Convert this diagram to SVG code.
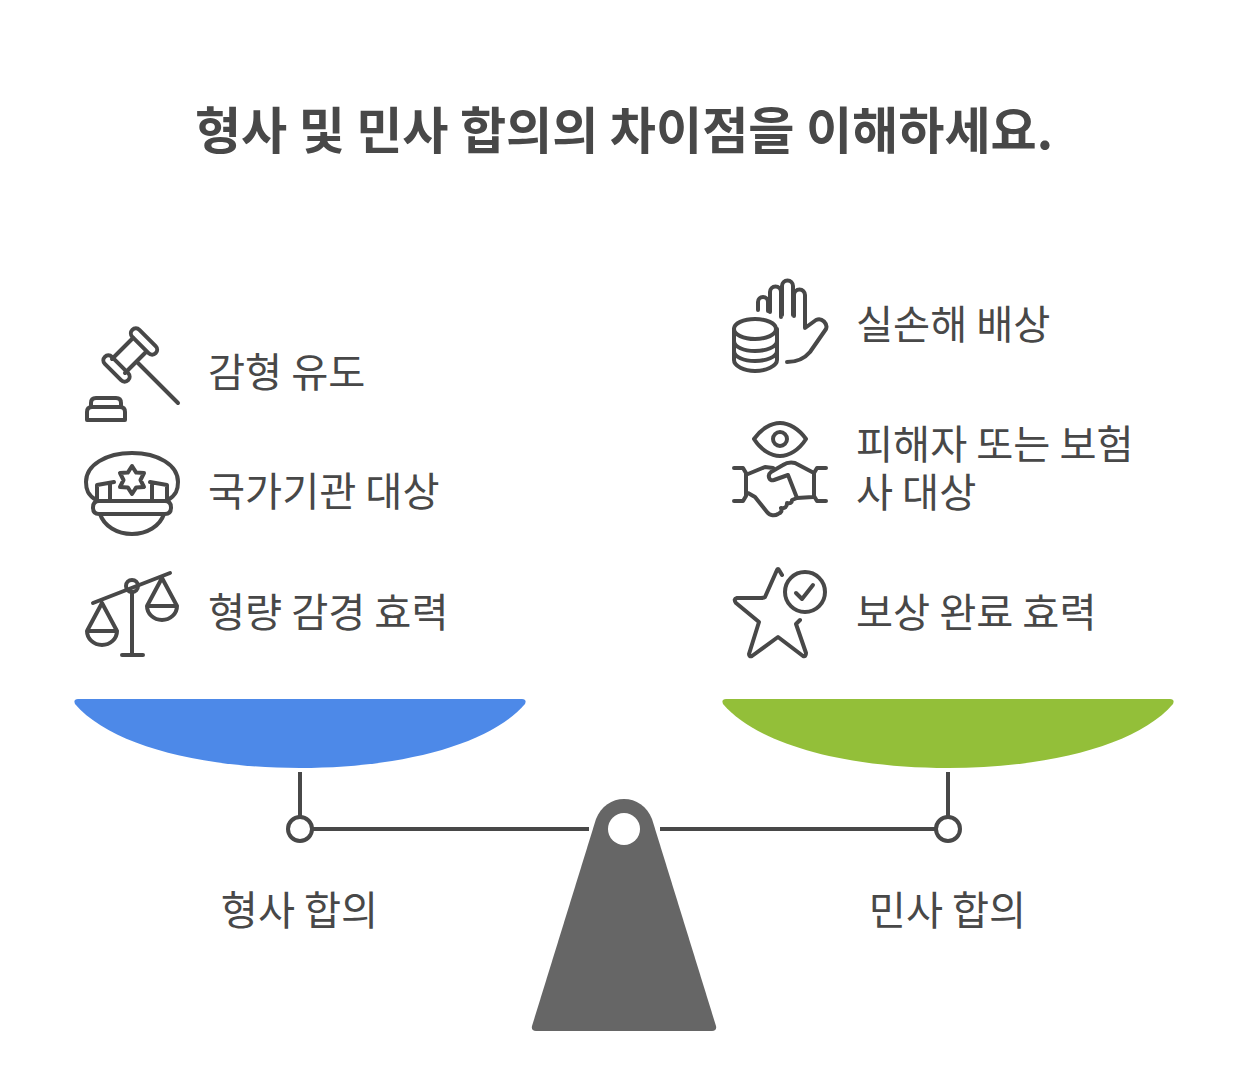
<svg xmlns="http://www.w3.org/2000/svg" width="1248" height="1069" viewBox="0 0 1248 1069">
<style>
text{font-family:"Noto Sans CJK KR","Noto Sans",sans-serif;fill:#484848}
.t{font-size:50.2px;font-weight:700}
.l{font-size:40.300px;font-weight:400}
.m{text-anchor:middle}
.i{fill:none;stroke:#484848;stroke-width:4;stroke-linecap:round;stroke-linejoin:round}
.c{fill:none;stroke:#484848;stroke-width:4}
</style>
<rect width="1248" height="1069" fill="#fff"/>
<text id="title" class="t" x="624" y="149" text-anchor="middle">형사 및 민사 합의의 차이점을 이해하세요.</text>
<g id="connectors">
<path class="c" d="M300 772V818M948 772V818M313 829H589M660 829H935"/>
</g>
<g id="pan-left"><path fill="#4d89e8" d="M78 699H522Q527 699 525 704C490 745 400 768 300 768C200 768 110 745 75 704Q73 699 78 699Z"/></g>
<g id="pan-right"><path fill="#93bf39" d="M726 699H1170Q1175 699 1173 704C1138 745 1048 768 948 768C848 768 758 745 723 704Q721 699 726 699Z"/></g>
<g id="fulcrum"><path fill="#666" d="M596 819C601 806 612 799 624 799C636 799 647 806 652 819L716 1026Q717 1031 712 1031H536Q531 1031 532 1026Z"/><circle cx="624" cy="829" r="16" fill="#fff"/></g>
<g id="pivot-left"><circle class="c" cx="300" cy="829" r="12" style="fill:#fff"/></g>
<g id="pivot-right"><circle class="c" cx="948" cy="829" r="12" style="fill:#fff"/></g>
<g id="label-left"><text class="l m" x="299.500" y="925">형사 합의</text></g>
<g id="label-right"><text class="l m" x="947.500" y="925">민사 합의</text></g>
<g id="item-gavel">
<g class="i"><rect x="-5" y="-16.500" width="10" height="33" rx="5" transform="translate(144 341.500) rotate(-45)"/><rect x="-5" y="-16.500" width="10" height="33" rx="5" transform="translate(116.500 368.500) rotate(-45)"/><path d="M133 338L112 359M146 352L125 373M138 363L178 403M91 407V403Q91 398 96 398H116Q121 398 121 403V407M87 420V412Q87 407 92 407H120Q125 407 125 412V420H87Z"/></g>
<text class="l" x="208" y="387">감형 유도</text></g>
<g id="item-cap">
<g class="i"><path d="M96 500C88 495 86 490 86 482C86 465 106 453 132 453C158 453 178 465 178 482C178 490 176 495 168 500"/><path d="M99 501H165Q171 501 171 507.500Q171 514 165 514H99Q93 514 93 507.500Q93 501 99 501ZM100 514C104 526 117 534 132 534C147 534 160 526 164 514M97 500V485L114 482M110 484V500M167 500V485L150 482M152 484V500"/><path d="M132 466L136.200 472.600L144 473L140.500 480L144 487L136.200 487.400L132 494L127.800 487.400L120 487L123.500 480L120 473L127.800 472.600Z"/></g>
<text class="l" x="208" y="506">국가기관 대상</text></g>
<g id="item-scales">
<g class="i"><path d="M93 603L170 573M132 592V655M122 655H143M102 603L87 631H117ZM87 631A15 14 0 0 0 117 631M162 578L147 606H177ZM147 606A15 14 0 0 0 177 606"/><circle cx="132" cy="586" r="6"/></g>
<text class="l" x="208" y="627">형량 감경 효력</text></g>
<g id="item-hand">
<g class="i"><ellipse cx="755" cy="329" rx="21" ry="10"/><path d="M734 329V360C734 366 744 371 755 371C766 371 777 366 777 360V329M734 341C734 347 744 351 755 351C766 351 777 347 777 341M734 351C734 357 744 361 755 361C766 361 777 357 777 351M758 310V302A5 5 0 0 1 768 302V311M770 312V292A5.500 5.500 0 0 1 781 292V317M782 315V286A5.500 5.500 0 0 1 793 286V315M794 316V295A5.500 5.500 0 0 1 805 295V328L816 320C822 317 828 324 826 329L810 352C805 358 797 362 787 362"/></g>
<text class="l" x="856" y="339">실손해 배상</text></g>
<g id="item-handshake">
<g class="i"><path d="M754 439C761 429 771 423 780 423C789 423 799 429 806 439C799 450 789 456 780 456C771 456 761 450 754 439Z"/><circle cx="780" cy="439" r="7"/><path d="M734 468H743L746 473V496L743 501H734M826 468H817L814 473V496L817 501H826M748 474L765 467L773 468M814 473L795 463C790 462 786 463 783 465L771 472C767 475 769 482 774 480L788 475L797 498L813 497M748 493L755 497L767 512C770 516 775 516 778 514Q783 512 781 508Q787 509 787 503Q792 504 792 500L797 498"/></g>
<text class="l" x="856" y="459">피해자 또는 보험</text><text class="l" x="856" y="507">사 대상</text></g>
<g id="item-star">
<g class="i"><path d="M782 575L779 570Q778 568 777 570L765 597Q764 598 761 598H737Q733 599 736 603L759 622L749 654Q749 657 752 656L778 637L803 656Q806 657 806 653L796 624L800 620"/><circle cx="805" cy="592" r="20"/><path d="M796 593L802 599L813 585"/></g>
<text class="l" x="856" y="627">보상 완료 효력</text></g>
</svg>
